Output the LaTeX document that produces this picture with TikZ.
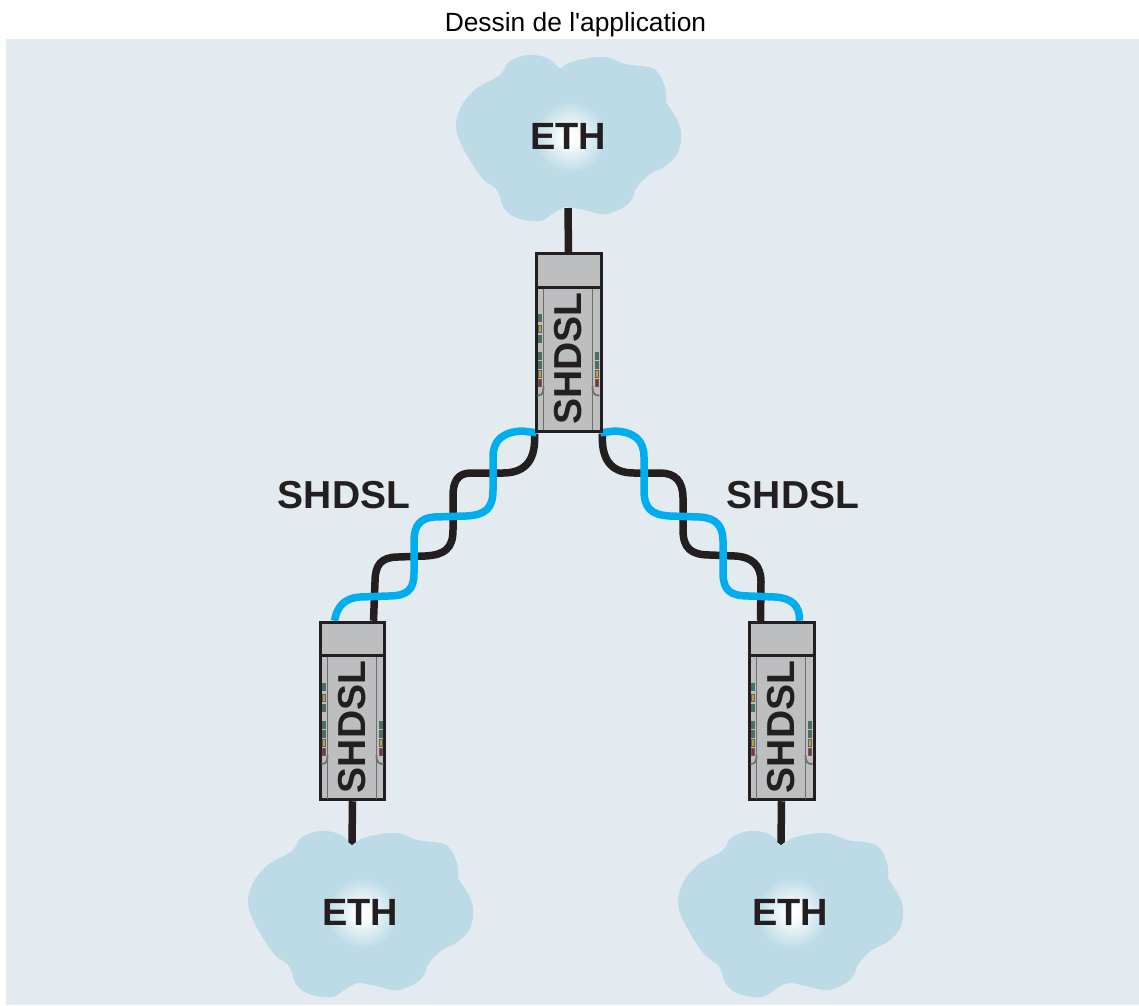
\documentclass[tikz,border=0pt]{standalone}
\usepackage{fontspec}
\setmainfont{Liberation Sans}
\newfontfamily\titlefont{Liberation Sans}
\usetikzlibrary{arrows.meta, calc, positioning, backgrounds}
\definecolor{backblue}{HTML}{E3EBF1}
\definecolor{cloudblue}{HTML}{BCDBE6}
\definecolor{wireblue}{HTML}{00AEEF}
\definecolor{wireblack}{HTML}{231F20}
\definecolor{unitgrey}{HTML}{BCBEC0}
\definecolor{stripgrey}{HTML}{6D6E71}
\definecolor{ledgreen}{HTML}{2F7F60}
\definecolor{ledyellow}{HTML}{B5A83A}
\definecolor{ledred}{HTML}{8C2A35}
\pgfdeclareradialshading{glow}{\pgfpoint{0bp}{0bp}}{color(0bp)=(white); color(6bp)=(white!90!cloudblue); color(15bp)=(white!45!cloudblue); color(25bp)=(cloudblue); color(50bp)=(cloudblue)}
\tikzstyle{wire} = [draw, line width=0.15cm, color=wireblack]
\tikzstyle{bluewire} = [draw, line width=0.15cm, color=wireblue]
\tikzstyle{stem} = [draw, line width=0.15cm, color=wireblack]
\tikzstyle{unit} = [rectangle, draw=wireblack, fill=unitgrey, line width=0.06cm, minimum width=1.3cm, minimum height=3.55cm, inner sep=0pt]
\tikzstyle{strip} = [draw=stripgrey, line width=0.035cm]
\tikzstyle{biglabel} = [font=\fontsize{22.2}{26}\selectfont\bfseries, text=wireblack, inner sep=0pt]
\tikzstyle{ethlabel} = [font=\fontsize{21.6}{26}\selectfont\bfseries, text=wireblack, inner sep=0pt]
% one SHDSL unit: name, centre x, centre y
\newcommand{\shdslunit}[3]{
  \node [unit] (#1) at (#2,#3) {};
  \begin{scope}[shift={(#2,#3)}]
    \draw [strip] (-25,-55) -- (-25,87.5) (24,-55) -- (24,87.5);
    \draw [strip] (-25,44) .. controls (-25,51) and (-27,53) .. (-31,53);
    \draw [strip] (24,44) .. controls (24,51) and (26,53) .. (31,53);
    \draw [wireblack, line width=0.06cm] (#1.west |- 0,-55.5) -- (#1.east |- 0,-55.5);
    \foreach \ledy/\ledcol in {-24.5/ledgreen, -13.5/ledyellow, -3.5/ledgreen, 13.5/ledgreen, 22.5/ledgreen, 31.5/ledyellow, 40.5/ledred}
      \fill [\ledcol, draw=wireblack!70, line width=0.2pt] (-30.7,\ledy-3.5) rectangle ++(3,7);
    \foreach \ledy/\ledcol in {13.5/ledgreen, 22.5/ledgreen, 31.5/ledyellow, 40.5/ledred}
      \fill [\ledcol, draw=wireblack!70, line width=0.2pt] (26.7,\ledy-3.5) rectangle ++(3,7);
    \node [biglabel, rotate=90] (#1label) at (-0.5,16) {SHDSL};
  \end{scope}
}
% one ETH cloud: name, centre x, centre y
\newcommand{\ethcloud}[3]{
  \begin{scope}[shift={(#2,#3)}]
    \fill [cloudblue] plot [smooth, tension=0.6] coordinates {
      (-8,-67) (6,-75) (36,-79) (57,-72) (86,-67) (97,-49) (98,-34)}
      -- plot [smooth, tension=0.6] coordinates {
      (98,-34) (112,-9) (111,14) (99,29) (82,38) (69,51)
      (61,67) (39,78) (16,74) (-1,71) (-13,76) (-28,85) (-51,82) (-64,72)
      (-71,54) (-86,42) (-104,14) (-112,-9) (-106,-31) (-91,-48) (-68,-61)
      (-59,-74) (-41,-81) (-21,-78) (-8,-67)} -- cycle;
    \shade [shading=glow] (2,1) circle [radius=36];
  \end{scope}
  \node [ethlabel] (#1) at (#2,#3) {ETH};
}
\begin{document}
\begin{tikzpicture}[x=0.02cm, y=-0.02cm]
\useasboundingbox (0,0) rectangle (1139,1005);
\node [font=\titlefont\fontsize{15}{18}\selectfont, inner sep=0pt] (title) at (575.5,24.5) {Dessin de l'application};

\shdslunit{unittop}{568.5}{342.5}
\shdslunit{unitleft}{352.5}{711}
\shdslunit{unitright}{781.5}{711}

\node [biglabel] (labelleft) at (344,495) {SHDSL};
\node [biglabel] (labelright) at (793,495) {SHDSL};

\begin{scope}[on background layer]
\fill [backblue] (6,39) rectangle (1139,1005);
\ethcloud{ethtop}{568}{136}
\ethcloud{ethleft}{360}{912}
\ethcloud{ethright}{790}{912}

\coordinate (stemtop) at (568,208);
\coordinate (stemleft) at (352,845);
\coordinate (stemright) at (781,845);
\path [stem] (unittop.north) -- (stemtop);
\path [stem, -{Triangle[width=0.15cm, length=0.06cm]}] (unitleft.south) -- (stemleft);
\path [stem, -{Triangle[width=0.15cm, length=0.06cm]}] (unitright.south) -- (stemright);

% left pair
\path [wire] ($(unittop.south west)+(0,1)$) .. controls (536,458) and (527,473) .. (503,473) -- (471,473)
  .. controls (458,473) and (453,481) .. (453,496) -- (453,530)
  .. controls (453,548) and (445,555) .. (425,556) -- (398,557)
  .. controls (381,557) and (375,565) .. (375,582) -- ($(unitleft.north west)+(55,0)$);
\path [bluewire] ($(unittop.south west)+(2,0)$) -- (522,431) .. controls (503,432) and (493,440) .. (493,457) -- (493,490)
  .. controls (493,508) and (486,515) .. (466,516) -- (434,517)
  .. controls (420,518) and (414,526) .. (414,541) -- (414,573)
  .. controls (414,590) and (407,596) .. (388,596) -- (360,597)
  .. controls (345,598) and (337,606) .. ($(unitleft.north west)+(16,0)$);

% right pair
\path [wire] ($(unittop.south east)+(0,1)$) .. controls (601,458) and (610,473) .. (634,473) -- (660,473)
  .. controls (675,473) and (683,481) .. (683,498) -- (683,530)
  .. controls (683,548) and (691,555) .. (710,555) -- (735,556)
  .. controls (752,557) and (761,565) .. (761,582) -- ($(unitright.north west)+(13,0)$);
\path [bluewire] ($(unittop.south east)+(-2,0)$) -- (615,431) .. controls (634,432) and (644,440) .. (644,457) -- (644,490)
  .. controls (644,508) and (651,515) .. (670,516) -- (700,517)
  .. controls (716,518) and (723,526) .. (723,541) -- (723,573)
  .. controls (723,590) and (730,596) .. (749,596) -- (775,597)
  .. controls (792,598) and (800,606) .. ($(unitright.north west)+(52,0)$);
\end{scope}
\end{tikzpicture}
\end{document}
